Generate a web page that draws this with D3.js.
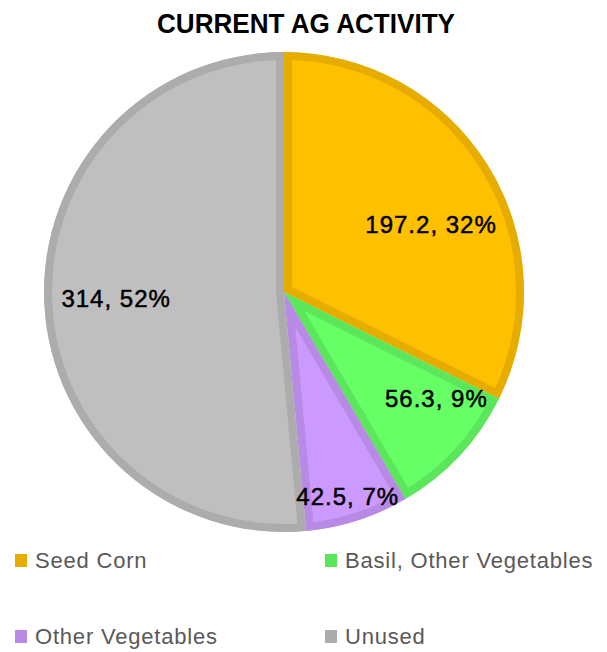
<!DOCTYPE html>
<html>
<head>
<meta charset="utf-8">
<script src="https://cdn.jsdelivr.net/npm/d3@7"></script>
<style>
  html, body { margin: 0; padding: 0; background: #fff; }
  svg { display: block; }
</style>
</head>
<body>
<svg id="chart" width="607" height="652"></svg>
<script>
// ---- data ----
const categories = ["Seed Corn", "Basil, Other Vegetables", "Other Vegetables", "Unused"];
const values = [197.2, 56.3, 42.5, 314];
const percentLabels = ["32%", "9%", "7%", "52%"];
const valueLabels = ["197.2", "56.3", "42.5", "314"];
const chartTitle = "CURRENT AG ACTIVITY";

// ---- styles ----
const fills = ["#FFC000", "#66FF66", "#CC99FF", "#BFBFBF"];
const borders = ["#E6AD00", "#5CE65C", "#B88AE6", "#ACACAC"];

const svg = d3.select("#chart");
const cx = 284, cy = 292, R = 240;

// title
svg.append("text")
  .attr("x", 306).attr("y", 33)
  .attr("text-anchor", "middle")
  .attr("textLength", 298)
  .attr("lengthAdjust", "spacingAndGlyphs")
  .style("font-family", "'Liberation Sans', Arial, sans-serif")
  .style("font-weight", "bold")
  .style("font-size", "28.5px")
  .style("fill", "#000")
  .text(chartTitle);

const pie = d3.pie().value(d => d).sort(null);
const arcs = pie(values);
const arc = d3.arc().innerRadius(0).outerRadius(R);

const g = svg.append("g").attr("transform", `translate(${cx},${cy})`);
const defs = svg.append("defs");

arcs.forEach((a, i) => {
  defs.append("clipPath").attr("id", "clip" + i)
    .append("path").attr("d", arc(a));
});

g.selectAll("path.slice")
  .data(arcs)
  .join("path")
  .attr("class", "slice")
  .attr("d", arc)
  .attr("fill", (d, i) => fills[i])
  .attr("stroke", (d, i) => borders[i])
  .attr("stroke-width", 16)
  .attr("stroke-linejoin", "miter")
  .attr("clip-path", (d, i) => `url(#clip${i})`);

// labels: radius fraction and angle shift (layout)
const labelRadius = [0.675, 0.775, 0.89, 0.70];
const labelShift = [7, -8, 0.5, 0.6];
g.selectAll("text.lbl")
  .data(arcs)
  .join("text")
  .attr("class", "lbl")
  .attr("x", (d, i) => {
    const ang = (d.startAngle + d.endAngle) / 2 + labelShift[i] * Math.PI / 180;
    return Math.sin(ang) * R * labelRadius[i];
  })
  .attr("y", (d, i) => {
    const ang = (d.startAngle + d.endAngle) / 2 + labelShift[i] * Math.PI / 180;
    return -Math.cos(ang) * R * labelRadius[i];
  })
  .attr("dy", "0.36em")
  .attr("text-anchor", "middle")
  .style("font-family", "'Liberation Sans', Arial, sans-serif")
  .style("font-size", "24px")
  .style("letter-spacing", "1px")
  .style("fill", "#000")
  .style("stroke", "#000")
  .style("stroke-width", "0.5px")
  .text((d, i) => `${valueLabels[i]}, ${percentLabels[i]}`);

// legend
const legendX = [15, 325];
const legendY = [554, 630];
const lg = svg.append("g");
categories.forEach((c, i) => {
  const col = i % 2, row = Math.floor(i / 2);
  const x = legendX[col], y = legendY[row];
  lg.append("rect")
    .attr("x", x).attr("y", y)
    .attr("width", 12).attr("height", 13)
    .attr("fill", borders[i]);
  lg.append("text")
    .attr("x", x + 20).attr("y", y + 13.5)
    .style("font-family", "'Liberation Sans', Arial, sans-serif")
    .style("font-size", "22px")
    .style("letter-spacing", "0.8px")
    .style("fill", "#595959")
    .text(c);
});
</script>
</body>
</html>
